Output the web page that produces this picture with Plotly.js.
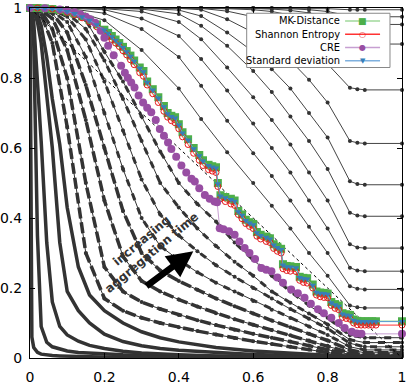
<!DOCTYPE html>
<html>
<head>
<meta charset="utf-8">
<script src="https://cdn.plot.ly/plotly-3.0.1.min.js"></script>
<style>
  html, body { margin: 0; padding: 0; background: #fff; }
  #plot { width: 407px; height: 384px; }
</style>
</head>
<body>
<div id="plot"></div>
<script>
// x grids shared by the black curves (one family member per row)
const gridLow = [0, .005, .01, .02, .03, .045, .06, .08, .1, .13, .16, .2, .25, .3, .35, .4, .5, .6, .7, .8, .86, .9, 1];
const gridMid = [0, .03, .06, .1, .15, .2, .25, .3, .35, .4, .45, .5, .55, .6, .65, .7, .75, .8, .86, .9, 1];
const gridUp = [0, .1, .2, .3, .4, .46, .53, .6, .65, .7, .75, .8, .86, .88, .9, 1];

// short aggregation times: steep, smooth curves
const lowCurves = [
  [1, .06, .03, .016, .011, .008, .007, .006, .005, .004, .0035, .003, .0025, .002, .0018, .0015, .0012, .001, .001, .001, .001, .001, .001],
  [1, .97, .9, .35, .09, .045, .032, .025, .02, .016, .014, .012, .0095, .008, .007, .006, .004, .003, .0022, .0018, .0015, .0015, .0015],
  [1, .99, .96, .8, .62, .33, .16, .09, .066, .048, .036, .027, .019, .014, .011, .009, .006, .004, .003, .0025, .002, .002, .002],
  [1, 1, .99, .96, .9, .76, .6, .33, .19, .135, .1, .068, .047, .035, .027, .022, .015, .01, .007, .005, .0035, .003, .003],
  [1, 1, 1, .98, .95, .86, .74, .61, .43, .26, .18, .135, .1, .075, .058, .046, .03, .02, .013, .008, .005, .004, .004]
];

// intermediate aggregation times
const midCurves = [
  [1, .98, .9, .66, .3, .17, .135, .115, .1, .088, .077, .067, .057, .048, .04, .032, .024, .016, .006, .004, .004],
  [1, .99, .94, .8, .5, .26, .19, .16, .14, .123, .108, .094, .081, .069, .058, .047, .036, .025, .01, .006, .006],
  [1, .995, .97, .88, .68, .45, .29, .22, .19, .167, .147, .128, .111, .095, .08, .065, .05, .035, .015, .009, .009],
  [1, .998, .985, .93, .78, .6, .42, .3, .25, .22, .195, .17, .148, .127, .107, .088, .069, .05, .023, .015, .015],
  [1, 1, .99, .96, .86, .7, .54, .4, .32, .28, .245, .215, .19, .163, .138, .114, .09, .066, .032, .023, .023],
  [1, 1, .995, .975, .91, .79, .65, .51, .41, .35, .305, .265, .232, .2, .17, .14, .112, .084, .042, .032, .032],
  [1, 1, .998, .985, .94, .85, .74, .62, .5, .43, .37, .32, .275, .235, .19, .158, .127, .096, .052, .044, .044],
  [1, 1, 1, .99, .965, .875, .79, .69, .59, .5, .44, .39, .33, .28, .235, .19, .15, .115, .065, .058, .058]
];

// long aggregation times: stay near 1, then step down
const upCurves = [
  [1, .997, .965, .88, .77, .683, .588, .5, .435, .37, .3, .235, .15, .145, .143, .143],
  [1, .999, .985, .94, .86, .778, .678, .585, .52, .45, .375, .3, .205, .198, .196, .196],
  [1, 1, .995, .97, .92, .854, .764, .67, .6, .53, .45, .37, .258, .25, .248, .248],
  [1, 1, .998, .99, .96, .911, .83, .745, .68, .61, .53, .45, .325, .316, .314, .314],
  [1, 1, 1, .997, .983, .949, .892, .82, .76, .69, .62, .54, .415, .407, .405, .405],
  [1, 1, 1, .999, .994, .977, .93, .875, .825, .77, .7, .63, .505, .497, .495, .495],
  [1, 1, 1, 1, .999, .995, .968, .93, .895, .85, .795, .73, .62, .615, .613, .613],
  [1, 1, 1, 1, 1, .999, .991, .975, .955, .93, .89, .84, .772, .768, .766, .766],
  [1, 1, 1, 1, 1, 1, .998, .995, .99, .98, .963, .94, .9, .898, .897, .897],
  [1, 1, 1, 1, 1, 1, 1, .999, .997, .993, .986, .975, .955, .954, .953, .953],
  [1, 1, 1, 1, 1, 1, 1, 1, .999, .998, .995, .99, .977, .976, .975, .975],
  [1, 1, 1, 1, 1, 1, 1, 1, 1, 1, .999, .998, .995, .995, .995, .995]
];

// measures
const measX = [0, .02, .04, .06, .08, .1, .12, .14, .16, .18,
  .2, .21, .22, .23, .24, .25, .26, .27, .28, .295,
  .305, .315, .33, .345, .36, .37, .38, .39, .4, .41,
  .425, .44, .455, .465, .48, .49, .5, .505, .512, .525,
  .54, .55, .56, .57, .58, .59, .6, .61, .62, .635,
  .645, .655, .665, .675, .68, .69, .7, .715, .725, .735,
  .745, .76, .77, .78, .79, .8, .81, .82, .83, .84,
  .85, .86, .87, .88, .89, .9, .91, .92, .93, 1];
const mkDistance = [1, 1, .999, .997, .994, .99, .984, .976, .966, .953,
  .938, .929, .92, .91, .9, .889, .877, .864, .85, .83,
  .82, .79, .768, .745, .72, .70, .692, .688, .668, .645,
  .625, .6, .58, .565, .552, .548, .545, .5, .465, .46,
  .455, .45, .42, .41, .395, .388, .383, .36, .352, .347,
  .342, .325, .318, .312, .268, .263, .262, .26, .232, .229,
  .228, .21, .19, .187, .186, .184, .16, .154, .15, .128,
  .125, .123, .11, .106, .105, .105, .105, .105, .105, .105];
const shannon = [1, 1, .999, .997, .993, .988, .981, .972, .96, .946,
  .93, .92, .91, .9, .89, .878, .866, .852, .838, .815,
  .805, .78, .755, .73, .705, .688, .678, .672, .655, .632,
  .61, .585, .565, .55, .538, .534, .53, .49, .455, .447,
  .44, .436, .41, .398, .384, .376, .37, .348, .34, .333,
  .33, .313, .305, .3, .255, .25, .248, .247, .222, .216,
  .214, .2, .18, .175, .173, .172, .15, .142, .138, .116,
  .113, .111, .1, .095, .094, .094, .094, .094, .094, .094];
const stdDev = [1, 1, .999, .997, .994, .99, .984, .975, .965, .952,
  .937, .928, .918, .908, .898, .887, .875, .862, .848, .828,
  .818, .788, .766, .743, .718, .698, .69, .686, .666, .643,
  .623, .598, .578, .563, .55, .546, .543, .498, .463, .458,
  .453, .448, .418, .408, .393, .386, .381, .358, .35, .345,
  .34, .323, .316, .31, .266, .261, .26, .258, .23, .227,
  .226, .208, .188, .185, .184, .182, .158, .152, .148, .126,
  .123, .121, .108, .105, .104, .104, .104, .104, .104, .104];
const creX = [0, .04, .08, .1, .12, .135, .15, .162, .175, .19,
  .2, .21, .225, .245, .255, .263, .272, .281, .292, .304,
  .315, .326, .338, .349, .36, .371, .38, .393, .407, .42,
  .434, .443, .455, .47, .483, .496, .503, .51, .52, .535,
  .55, .563, .577, .59, .605, .622, .635, .649, .665, .68,
  .702, .72, .738, .755, .774, .79, .81, .83, .846, .865,
  .878, .891, 1];
const creY = [1, .999, .996, .993, .988, .982, .975, .968, .958, .935,
  .915, .892, .865, .835, .815, .801, .787, .773, .75, .73,
  .715, .702, .68, .654, .635, .616, .597, .575, .55, .53,
  .512, .504, .485, .466, .455, .447, .445, .371, .368, .362,
  .352, .333, .314, .3, .283, .257, .252, .248, .23, .215,
  .196, .185, .172, .155, .139, .128, .115, .1, .086, .075,
  .07, .069, .069];

const diagX = [0, 1];
const diagY = [1, 0];

const legendNames = ['MK-Distance', 'Shannon Entropy', 'CRE', 'Standard deviation'];
const tickVals = [0, 0.2, 0.4, 0.6, 0.8, 1];
const tickText = ['0', '0.2', '0.4', '0.6', '0.8', '1'];

const black = '#333333';
const traces = [];

lowCurves.forEach(ys => traces.push({
  x: gridLow, y: ys, mode: 'lines', type: 'scatter',
  line: { color: black, width: 3.5 }, hoverinfo: 'skip', showlegend: false
}));
// mid curves: thin connecting line plus thick dashes for the dense dot clusters
midCurves.forEach((ys, i) => {
  traces.push({
    x: gridMid, y: ys, mode: 'lines+markers', type: 'scatter', cliponaxis: false,
    line: { color: black, width: 1 },
    marker: { color: black, size: 4 },
    hoverinfo: 'skip', showlegend: false
  });
  traces.push({
    x: gridMid, y: ys, mode: 'lines', type: 'scatter',
    line: { color: black, width: i < 4 ? 3.5 : 3, dash: i < 4 ? '11px,4px' : '7px,8px' },
    hoverinfo: 'skip', showlegend: false
  });
});
upCurves.forEach(ys => traces.push({
  x: gridUp, y: ys, mode: 'lines+markers', type: 'scatter', cliponaxis: false,
  line: { color: '#444444', width: 1 },
  marker: { color: black, size: 4 },
  hoverinfo: 'skip', showlegend: false
}));

traces.push({
  x: diagX, y: diagY, mode: 'lines', type: 'scatter',
  line: { color: 'black', width: 1, dash: '3px,3px' }, showlegend: false
});

traces.push({
  x: measX, y: mkDistance, name: legendNames[0], mode: 'lines+markers', type: 'scatter', cliponaxis: false,
  line: { color: '#a1d99b', width: 1.5 },
  marker: { symbol: 'square', color: '#4daf4a', size: 8 }, showlegend: false
});
traces.push({
  x: measX, y: shannon, name: legendNames[1], mode: 'lines+markers', type: 'scatter', cliponaxis: false,
  line: { color: '#ff3333', width: 1 },
  marker: { symbol: 'circle-open', color: '#e41a1c', size: 6, line: { width: 1 } }, showlegend: false
});
traces.push({
  x: creX, y: creY, name: legendNames[2], mode: 'lines+markers', type: 'scatter', cliponaxis: false,
  line: { color: '#c79fd1', width: 1 },
  marker: { color: '#984ea3', size: 8 }, showlegend: false
});
traces.push({
  x: measX, y: stdDev, name: legendNames[3], mode: 'lines+markers', type: 'scatter', cliponaxis: false,
  line: { color: '#5b9bd5', width: 1 },
  marker: { symbol: 'triangle-down', color: '#377eb8', size: 6 }, showlegend: false
});

// legend drawn gnuplot-style: text on the left, sample on the right
const legRows = [0.963, 0.925, 0.887, 0.849];
const legLine = ['#a1d99b', '#ff3333', '#c79fd1', '#7fb0de'];
const legGlyph = ['■', '○', '●', '▼'];
const legGlyphColor = ['#4daf4a', '#e41a1c', '#984ea3', '#377eb8'];
const legGlyphSize = [9, 8, 8, 7];

const shapes = [{
  type: 'rect', xref: 'paper', yref: 'paper', x0: 0.5825, x1: 0.9677, y0: 0.83, y1: 0.985,
  line: { color: '#888888', width: 1 }, fillcolor: 'white', layer: 'above'
}];
const annotations = [];
legendNames.forEach((name, i) => {
  shapes.push({
    type: 'line', xref: 'paper', yref: 'paper', x0: 0.847, x1: 0.941, y0: legRows[i], y1: legRows[i],
    line: { color: legLine[i], width: 1.5 }, layer: 'above'
  });
  annotations.push({
    xref: 'paper', yref: 'paper', x: 0.838, y: legRows[i], xanchor: 'right', yanchor: 'middle',
    text: name, showarrow: false,
    font: { family: 'DejaVu Sans Condensed, DejaVu Sans, sans-serif', size: 11, color: 'black' }
  });
  annotations.push({
    xref: 'paper', yref: 'paper', x: 0.894, y: legRows[i], xanchor: 'center', yanchor: 'middle',
    text: legGlyph[i], showarrow: false,
    font: { family: 'DejaVu Sans', size: legGlyphSize[i], color: legGlyphColor[i] }
  });
});

annotations.push({
  x: 0.313, y: 0.318, xref: 'x', yref: 'y', showarrow: false,
  text: '<b>increasing<br>aggregation time</b>', textangle: -40,
  font: { family: 'DejaVu Sans', size: 12, color: '#333333' }
});
annotations.push({
  x: 0.439, y: 0.305, ax: 0.309, ay: 0.202, xref: 'x', yref: 'y', axref: 'x', ayref: 'y',
  text: '', showarrow: true, arrowhead: 2, arrowsize: 0.8, arrowwidth: 6.5, arrowcolor: 'black'
});

const axisCommon = {
  range: [0, 1], showgrid: false, zeroline: false,
  showline: true, linecolor: 'black', linewidth: 1, mirror: 'ticks',
  ticks: 'inside', ticklen: 5, tickcolor: 'black',
  tickvals: tickVals, ticktext: tickText, ticklabeloverflow: 'allow',
  tickfont: { family: 'DejaVu Sans', size: 14, color: 'black' }
};

const layout = {
  width: 407, height: 384,
  margin: { l: 30, r: 5, t: 8, b: 26 },
  paper_bgcolor: 'white', plot_bgcolor: 'white',
  showlegend: false,
  xaxis: Object.assign({}, axisCommon, { ticklabelstandoff: 6 }),
  yaxis: Object.assign({}, axisCommon, { ticklabelstandoff: 4 }),
  shapes: shapes,
  annotations: annotations
};

Plotly.newPlot('plot', traces, layout, { displayModeBar: false, staticPlot: true });
</script>
</body>
</html>
